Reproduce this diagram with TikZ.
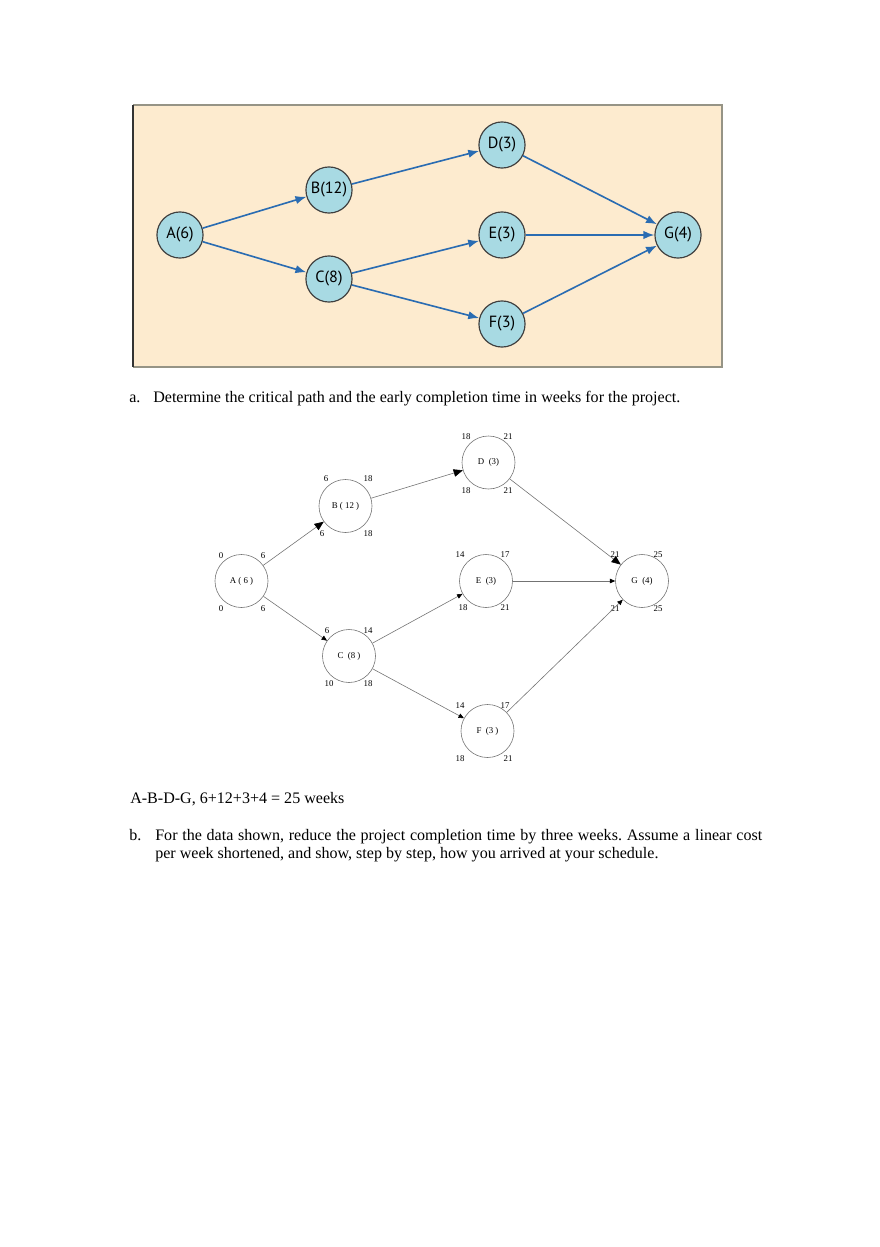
\documentclass[tikz,border=0pt]{standalone}
\usepackage{fontspec}
\setmainfont{Liberation Serif}
\newfontfamily\netfont{PT Sans}
\usetikzlibrary{arrows.meta}
\definecolor{paleBeige}{RGB}{253,235,207}
\definecolor{paleCyan}{RGB}{168,218,227}
\definecolor{arrowBlue}{RGB}{42,108,178}
\definecolor{frameGray}{RGB}{150,148,134}
\frenchspacing

\begin{document}
\begin{tikzpicture}[x=0.2386mm, y=-0.2386mm,
    act/.style={circle, draw=black!75, line width=0.8pt, fill=paleCyan,
        minimum size=11mm, inner sep=0pt, font=\netfont\fontsize{11}{13}\selectfont},
    link/.style={arrowBlue, line width=1.1pt, -{Latex[length=2.6mm,width=2mm]}},
    evt/.style={circle, draw=black!55, line width=0.4pt, minimum size=12.65mm,
        inner sep=0pt, font=\fontsize{6}{7}\selectfont},
    num/.style={inner sep=0pt, font=\fontsize{6}{7}\selectfont},
    bigtip/.style={black!55, line width=0.4pt, -{Triangle[length=2.2mm,width=1.8mm,color=black]}},
    smalltip/.style={black!55, line width=0.4pt, -{Triangle[length=1.3mm,width=1.1mm,color=black]}},
    body/.style={inner sep=0pt, font=\fontsize{10.9}{12.2}\selectfont}]

            \useasboundingbox (0,0) rectangle (880,1247);

            % given network
            \fill[paleBeige] (133,105) rectangle (722,367);
            \draw[frameGray, line width=1.2pt] (133,105) -- (722,105) -- (722,367) -- (133,367);
            \draw[black!80, line width=1.2pt] (133,105) -- (133,367);

            \node[act] (A) at (180,235) {A(6)};
            \node[act] (B) at (329,190) {B(12)};
            \node[act] (C) at (329,279) {C(8)};
            \node[act] (D) at (502,145) {D(3)};
            \node[act] (E) at (502,235) {E(3)};
            \node[act] (F) at (502,324) {F(3)};
            \node[act] (G) at (678,235) {G(4)};

            \draw[link] (A) -- (B);
            \draw[link] (A) -- (C);
            \draw[link] (B) -- (D);
            \draw[link] (C) -- (E);
            \draw[link] (C) -- (F);
            \draw[link] (D) -- (G);
            \draw[link] (E) -- (G);
            \draw[link] (F) -- (G);

            % question a
            \node[body, anchor=base west] (qa) at (129,402) {a.};
            \node[body, anchor=base west] (qatext) at (153,402)
                {Determine the critical path and the early completion time in weeks for the project.};

            % answer network
            \node[evt] (a) at (241.5,581) {A ( 6 )};
            \node[evt] (b) at (345.5,506) {B ( 12 )};
            \node[evt] (c) at (349,656) {C\ \ (8 )};
            \node[evt] (d) at (488.5,462.5) {D\ \ (3)};
            \node[evt] (e) at (486,581) {E\ \ (3)};
            \node[evt] (f) at (487.5,731) {F\ \ (3 )};
            \node[evt] (g) at (642,581) {G\ \ (4)};

            \node[num] (a1) at (221,556) {0};
            \node[num] (a2) at (263,556) {6};
            \node[num] (a3) at (221,609) {0};
            \node[num] (a4) at (263,609) {6};

            \node[num] (b1) at (326,479) {6};
            \node[num] (b2) at (368,479) {18};
            \node[num] (b3) at (322,534) {6};
            \node[num] (b4) at (368,534) {18};

            \node[num] (c1) at (327,631) {6};
            \node[num] (c2) at (368,631) {14};
            \node[num] (c3) at (329,684) {10};
            \node[num] (c4) at (368,684) {18};

            \node[num] (d1) at (466,437) {18};
            \node[num] (d2) at (508,437) {21};
            \node[num] (d3) at (466,491) {18};
            \node[num] (d4) at (508,491) {21};

            \node[num] (e1) at (460,555) {14};
            \node[num] (e2) at (505,555) {17};
            \node[num] (e3) at (463,608) {18};
            \node[num] (e4) at (505,608) {21};

            \node[num] (f1) at (460,706) {14};
            \node[num] (f2) at (505,706) {17};
            \node[num] (f3) at (460,759) {18};
            \node[num] (f4) at (508,759) {21};

            \node[num] (g1) at (615,555) {21};
            \node[num] (g2) at (658,555) {25};
            \node[num] (g3) at (615,609) {21};
            \node[num] (g4) at (658,609) {25};

            \draw[bigtip] (a) -- (b);
            \draw[smalltip] (a) -- (c);
            \draw[bigtip] (b) -- (d);
            \draw[smalltip] (c) -- (e);
            \draw[smalltip] (c) -- (f);
            \draw[bigtip] (d) -- (g);
            \draw[smalltip] (e) -- (g);
            \draw[smalltip] (f) -- (g);

            % answer a
            \node[body, anchor=base west] (ansa) at (130,803) {A-B-D-G, 6+12+3+4 = 25 weeks};

            % question b
            \node[body, anchor=base west] (qb) at (129,840) {b.};
            \node[body, anchor=north west, text width=144.8mm, align=justify] (qbtext) at (155,829.5)
                {For the data shown, reduce the project completion time by three weeks. Assume a linear cost\linebreak
                per week shortened, and show, step by step, how you arrived at your schedule.};

        \end{tikzpicture}
\end{document}
